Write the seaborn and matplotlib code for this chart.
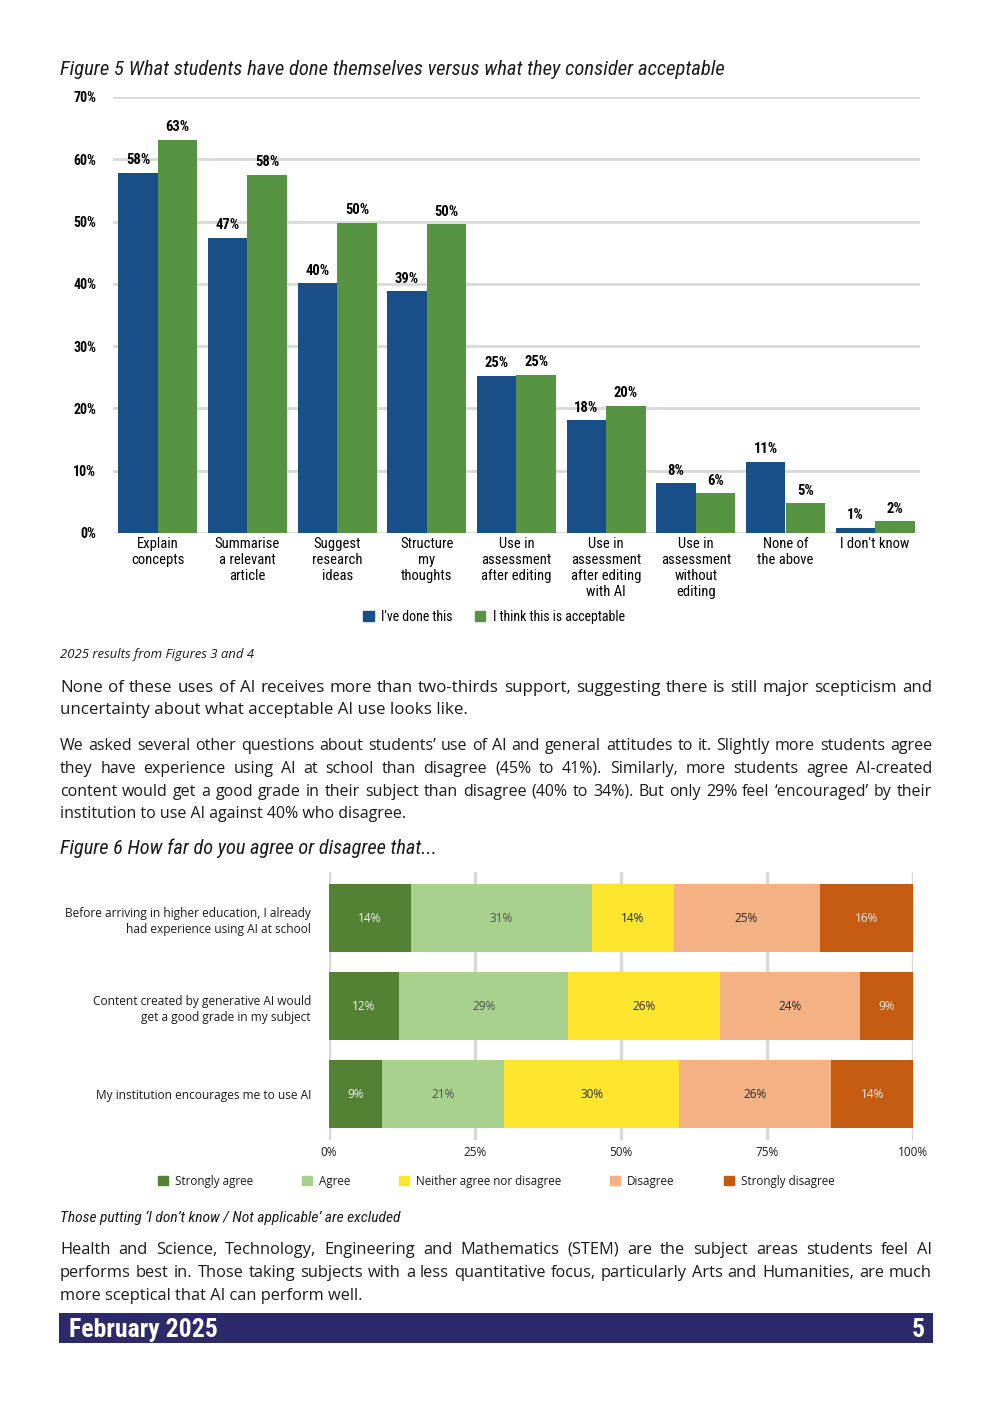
"""Page 5 of the student AI report: two charts with the text around them."""

import matplotlib

matplotlib.use("Agg")
import matplotlib.pyplot as plt
import pandas as pd
import seaborn as sns
from matplotlib import font_manager
from matplotlib.patches import Patch, Rectangle


sns.set_theme(style="white")

available = {f.name for f in font_manager.fontManager.ttflist}


def pick(*names):
    for name in names:
        if name in available:
            return name
    return "DejaVu Sans"


NARROW = pick("Liberation Sans Narrow", "Roboto Condensed", "Liberation Sans")
SANS = pick("Open Sans", "Noto Sans", "DejaVu Sans")
plt.rcParams["font.family"] = [NARROW, "DejaVu Sans"]

# ---- Figure 5 data ----
USES = [
    "Explain\nconcepts",
    "Summarise\na relevant\narticle",
    "Suggest\nresearch\nideas",
    "Structure\nmy\nthoughts",
    "Use in\nassessment\nafter editing",
    "Use in\nassessment\nafter editing\nwith AI",
    "Use in\nassessment\nwithout\nediting",
    "None of\nthe above",
    "I don't know",
]
DONE = [57.8, 47.4, 40.1, 38.8, 25.2, 18.1, 8.0, 11.4, 0.8]
ACCEPTABLE = [63.1, 57.5, 49.8, 49.6, 25.4, 20.4, 6.4, 4.8, 1.9]
SERIES = ["I've done this", "I think this is acceptable"]
Y_TICKS = [0, 10, 20, 30, 40, 50, 60, 70]

# ---- Figure 6 data ----
STATEMENTS = [
    "Before arriving in higher education, I already\nhad experience using AI at school",
    "Content created by generative AI would\nget a good grade in my subject",
    "My institution encourages me to use AI",
]
RESPONSES = ["Strongly agree", "Agree", "Neither agree nor disagree", "Disagree", "Strongly disagree"]
STRONGLY_AGREE = [14, 12, 9]
AGREE = [31, 29, 21]
NEITHER = [14, 26, 30]
DISAGREE = [25, 24, 26]
STRONGLY_DISAGREE = [16, 9, 14]
X_TICKS = [0, 25, 50, 75, 100]

BLUE = "#184f87"
GREEN = "#569343"
LIKERT_COLORS = ["#548235", "#a9d18e", "#ffe62e", "#f4b183", "#c55a11"]
LIKERT_TEXT = ["#f2f2f2", "#4d4d4d", "#262626", "#262626", "#f2f2f2"]
GRID = "#d9d9d9"
INK = "#1a1a1a"
FOOTER = "#2d2a6b"

W, H = 992, 1403
fig = plt.figure(figsize=(W / 100, H / 100), dpi=100)
fig.patch.set_facecolor("white")
renderer = fig.canvas.get_renderer()


def fx(px):
    return px / W


def fy(py):
    return 1 - py / H


def put(x, y, s, size, **kw):
    # y is the visual middle of the line; text sits on a baseline below it
    kw.setdefault("color", INK)
    t = fig.text(fx(x), 0, s, fontsize=size, va="baseline", **kw)
    place_y(t, y)
    return t


def place_y(t, y):
    t.set_y(fy(y + 0.36 * t.get_fontsize() * 100 / 72))


def width_of(t):
    return t.get_window_extent(renderer).width


def put_fit(x, y, s, width, **kw):
    t = put(x, y, s, 10, **kw)
    t.set_fontsize(10 * width / width_of(t))
    place_y(t, y)
    return t


def paragraph(lines, ys, family, x0=60, x1=932):
    # one size so the widest line fits, then spread words to justify
    probe = [put(0, -100, line, 10, family=family) for line in lines[:-1]]
    size = 10 * (x1 - x0) * 0.985 / max(width_of(t) for t in probe)
    for t in probe:
        t.remove()
    for k, (line, y) in enumerate(zip(lines, ys)):
        if k == len(lines) - 1:
            put(x0, y, line, size, family=family)
            continue
        words = [put(x0, y, w, size, family=family) for w in line.split(" ")]
        widths = [width_of(t) for t in words]
        gap = (x1 - x0 - sum(widths)) / (len(words) - 1)
        x = x0
        for t, w in zip(words, widths):
            t.set_x(fx(x))
            x += w + gap


# ---------------- Figure 5 ----------------
put_fit(60, 68, "Figure 5 What students have done themselves versus what they consider acceptable",
        662, style="italic")

df5 = pd.DataFrame({
    "use": USES * 2,
    "pct": DONE + ACCEPTABLE,
    "series": [SERIES[0]] * len(USES) + [SERIES[1]] * len(USES),
})

ax1 = fig.add_axes([fx(113), fy(533), (920 - 113) / W, (533 - 97) / H])
sns.barplot(data=df5, x="use", y="pct", hue="series", order=USES, hue_order=SERIES,
            palette=[BLUE, GREEN], saturation=1, width=0.88, gap=0, linewidth=0,
            legend=False, ax=ax1)
ax1.set_xlim(-0.5, len(USES) - 0.5)
ax1.set_ylim(0, 70)
ax1.set_yticks(Y_TICKS)
ax1.set_yticklabels([f"{v}%" for v in Y_TICKS], fontsize=10, fontweight="bold", color="black")
ax1.tick_params(axis="y", length=0, pad=12)
ax1.tick_params(axis="x", length=0, pad=3, labelsize=10.5, labelcolor="black")
for lab in ax1.get_xticklabels():
    lab.set_linespacing(1.18)
ax1.set_xlabel("")
ax1.set_ylabel("")
ax1.yaxis.grid(True, color=GRID, linewidth=2)
ax1.set_axisbelow(True)
for sp in ax1.spines.values():
    sp.set_visible(False)
for cont, vals in zip(ax1.containers, [DONE, ACCEPTABLE]):
    ax1.bar_label(cont, labels=[f"{v:.0f}%" for v in vals], padding=4,
                  fontsize=10.5, fontweight="bold", color="black")

ax1.legend(handles=[Patch(color=BLUE), Patch(color=GREEN)], labels=SERIES,
           loc="center", bbox_to_anchor=(fx(494), fy(617)), bbox_transform=fig.transFigure,
           ncol=2, frameon=False, fontsize=10, handlelength=0.75, handleheight=0.75,
           handletextpad=0.55, columnspacing=1.6, labelcolor="black")

put_fit(60, 653, "2025 results from Figures 3 and 4", 194, style="italic", family=SANS)

paragraph([
    "None of these uses of AI receives more than two-thirds support, suggesting there is still major scepticism and",
    "uncertainty about what acceptable AI use looks like.",
], [686, 708], SANS)

paragraph([
    "We asked several other questions about students\u2019 use of AI and general attitudes to it. Slightly more students agree",
    "they have experience using AI at school than disagree (45% to 41%). Similarly, more students agree AI-created",
    "content would get a good grade in their subject than disagree (40% to 34%). But only 29% feel \u2018encouraged\u2019 by their",
    "institution to use AI against 40% who disagree.",
], [744, 767, 790, 812], SANS)

# ---------------- Figure 6 ----------------
put_fit(60, 847, "Figure 6 How far do you agree or disagree that...", 377, style="italic")

levels = [STRONGLY_AGREE, AGREE, NEITHER, DISAGREE, STRONGLY_DISAGREE]
rows = []
for j, stmt in enumerate(STATEMENTS):
    left = 0
    for resp, vals in zip(RESPONSES, levels):
        rows.append({"statement": stmt, "response": resp, "pct": vals[j],
                     "left": left, "right": left + vals[j]})
        left += vals[j]
df6 = pd.DataFrame(rows)

ax2 = fig.add_axes([fx(329), fy(1140), (913 - 329) / W, (1140 - 872) / H])
# stacked: draw the cumulative ends from the longest to the shortest
for resp, col in reversed(list(zip(RESPONSES, LIKERT_COLORS))):
    sub = df6[df6["response"] == resp]
    sns.barplot(data=sub, x="right", y="statement", order=STATEMENTS, orient="h",
                color=col, saturation=1, width=0.773, linewidth=0, ax=ax2)

for _, r in df6.iterrows():
    k = RESPONSES.index(r["response"])
    j = STATEMENTS.index(r["statement"])
    ax2.text((r["left"] + r["right"]) / 2, j, f"{r['pct']}%", ha="center", va="center",
             fontsize=8.5, color=LIKERT_TEXT[k], family=SANS)

ax2.set_xlim(0, 100)
ax2.set_ylim(2.517, -0.523)
ax2.set_xticks(X_TICKS)
ax2.set_xticklabels([f"{v}%" for v in X_TICKS], fontsize=8.5, family=SANS, color=INK)
ax2.tick_params(axis="x", length=0, pad=4)
ax2.tick_params(axis="y", length=0, pad=13)
for lab in ax2.get_yticklabels():
    lab.set_fontsize(8.6)
    lab.set_family(SANS)
    lab.set_color(INK)
    lab.set_linespacing(1.3)
ax2.set_xlabel("")
ax2.set_ylabel("")
ax2.xaxis.grid(True, color=GRID, linewidth=2.5)
ax2.set_axisbelow(True)
for sp in ax2.spines.values():
    sp.set_visible(False)

ax2.legend(handles=[Patch(color=c) for c in LIKERT_COLORS], labels=RESPONSES,
           loc="center", bbox_to_anchor=(fx(496), fy(1181)), bbox_transform=fig.transFigure,
           ncol=5, frameon=False, prop={"family": SANS, "size": 8.4},
           handlelength=0.85, handleheight=0.85, handletextpad=0.6, columnspacing=4.2,
           labelcolor=INK)

put_fit(60, 1216, "Those putting \u2018I don\u2019t know / Not applicable\u2019 are excluded", 339,
        style="italic")

paragraph([
    "Health and Science, Technology, Engineering and Mathematics (STEM) are the subject areas students feel AI",
    "performs best in. Those taking subjects with a less quantitative focus, particularly Arts and Humanities, are much",
    "more sceptical that AI can perform well.",
], [1248, 1271, 1294], SANS)

# ---------------- footer ----------------
fig.add_artist(Rectangle((fx(59), fy(1343)), (933 - 59) / W, 30 / H,
                         transform=fig.transFigure, color=FOOTER, linewidth=0))
put(69, 1328, "February 2025", 18.5, color="white", fontweight="bold")
put(925, 1328, "5", 18.5, color="white", fontweight="bold", ha="right")

fig.savefig("out.png", dpi=100, facecolor="white")
